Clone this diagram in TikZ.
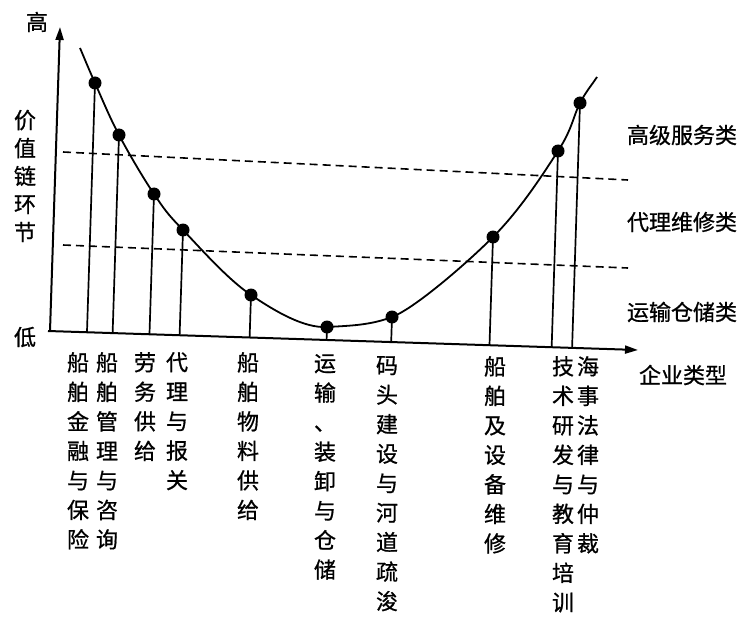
\documentclass[tikz,border=0pt]{standalone}
\usepackage{fontspec}
\newfontfamily\cjk{Noto Sans CJK SC}[BoldFont={Noto Sans CJK SC},BoldFeatures={FakeBold=0.8}]
\usetikzlibrary{arrows.meta,calc}
\begin{document}
\begin{tikzpicture}[x=1pt,y=-1pt,
  axis/.style={line width=2pt,-{Triangle[length=13pt,width=8pt]}},
  curveline/.style={line width=1.8pt},
  stem/.style={line width=1.7pt},
  guide/.style={line width=1.6pt,dash pattern=on 8pt off 5pt},
  dot/.style={circle,fill=black,inner sep=0pt,minimum size=13pt},
  lbl/.style={font=\cjk\bfseries\fontsize{22}{29.5}\selectfont,inner sep=0pt},
  col/.style={lbl,align=center,anchor=north}]
\useasboundingbox (0,0) rectangle (743,620);
% axes
\coordinate (yb) at (50,331);
\coordinate (yt) at (60,27);
\coordinate (xl) at (48,331);
\coordinate (xr) at (638,350);
\draw[axis] (yb) -- (yt);
\draw[axis] (xl) -- (xr);
% guide lines
\coordinate (g1a) at (63,152); \coordinate (g1b) at (628,180);
\coordinate (g2a) at (63,245); \coordinate (g2b) at (628,268);
\draw[guide] (g1a) -- (g1b);
\draw[guide] (g2a) -- (g2b);
% curve points
\coordinate (cs) at (80,48);
\coordinate (ce) at (597,77);
\node[dot] (p1) at (95,83) {};
\node[dot] (p2) at (119,135) {};
\node[dot] (p3) at (154,194) {};
\node[dot] (p4) at (183,230) {};
\node[dot] (p5) at (251,295) {};
\node[dot] (p6) at (327,327) {};
\node[dot] (p7) at (392,317) {};
\node[dot] (p8) at (493,237) {};
\node[dot] (p9) at (558,151) {};
\node[dot] (p10) at (580,103) {};
\draw[curveline] (cs)
  .. controls (85,59.7) and (88.5,68.5) .. (p1.center)
  .. controls (101.5,97.5) and (109.2,116.5) .. (p2.center)
  .. controls (128.8,153.5) and (143.3,178.2) .. (p3.center)
  .. controls (164.7,209.8) and (166.8,213.2) .. (p4.center)
  .. controls (199.2,246.8) and (227,278.8) .. (p5.center)
  .. controls (275,311.2) and (303.7,328.3) .. (p6.center)
  .. controls (350.3,325.7) and (370,325.3) .. (p7.center)
  .. controls (414,308.7) and (465.3,264.7) .. (p8.center)
  .. controls (520.7,209.3) and (543.5,173.3) .. (p9.center)
  .. controls (572.5,128.7) and (573.5,115.3) .. (p10.center)
  .. controls (586.5,90.7) and (591.3,85.7) .. (ce);
% stems
\foreach \i in {1,...,10}{
  \coordinate (f\i) at ($(xl)!(p\i.center)!(xr)$);
  \draw[stem] (p\i.center) -- (f\i);
}
% axis labels
\node[lbl] (hi) at (37,22) {高};
\node[lbl] (lo) at (25,337) {低};
\node[lbl,align=center,font=\cjk\bfseries\fontsize{22}{28}\selectfont] (vc) at (25,176) {价\\值\\链\\环\\节};
\node[lbl] (ty) at (683,375) {企业类型};
\node[lbl] (c1) at (682,135) {高级服务类};
\node[lbl] (c2) at (682,222) {代理维修类};
\node[lbl] (c3) at (682,312) {运输仓储类};
% company labels
\node[col] (l1) at (78,352) {船\\舶\\金\\融\\与\\保\\险};
\node[col] (l2) at (107,352) {船\\舶\\管\\理\\与\\咨\\询};
\node[col] (l3) at (145,352) {劳\\务\\供\\给};
\node[col] (l4) at (177,352) {代\\理\\与\\报\\关};
\node[col] (l5) at (248,352) {船\\舶\\物\\料\\供\\给};
\node[col] (l6) at (325,354) {运\\输\\、\\装\\卸\\与\\仓\\储};
\node[col] (l7) at (387,356) {码\\头\\建\\设\\与\\河\\道\\疏\\浚};
\node[col] (l8) at (495,356) {船\\舶\\及\\设\\备\\维\\修};
\node[col] (l9) at (563,356) {技\\术\\研\\发\\与\\教\\育\\培\\训};
\node[col] (l10) at (588,356) {海\\事\\法\\律\\与\\仲\\裁};
\end{tikzpicture}
\end{document}
